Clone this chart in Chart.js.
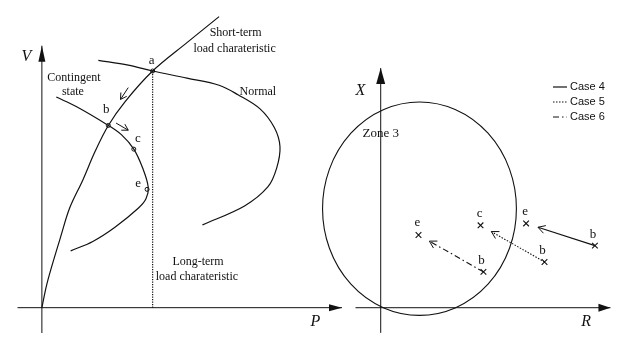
<!DOCTYPE html>
<html>
<head>
<meta charset="utf-8">
<script src="https://cdn.jsdelivr.net/npm/chart.js@4.4.1/dist/chart.umd.min.js"></script>
<style>
  html, body { margin: 0; padding: 0; background: #fff; }
  #wrap { position: relative; width: 632px; height: 338px; overflow: hidden; }
  #pv { position: absolute; left: 0; top: 0; }
  #rx { position: absolute; left: 300px; top: 0; }
</style>
</head>
<body>
<div id="wrap">
  <canvas id="pv" width="350" height="338"></canvas>
  <canvas id="rx" width="332" height="338"></canvas>
</div>
<script>
// P-V plane (per unit)
const shortTermP = [0, 0.04, 0.08, 0.17, 0.25, 0.37, 0.48, 0.6, 0.75, 1.0, 1.31, 1.6];
const shortTermV = [0, 0.09, 0.16, 0.30, 0.42, 0.54, 0.66, 0.77, 0.87, 1.0, 1.12, 1.23];
const normalP = [0.51, 0.78, 1.0, 1.31, 1.6, 1.77, 1.97, 2.1, 2.15, 2.12, 2.04, 1.83, 1.45];
const normalV = [1.045, 1.025, 1.0, 0.97, 0.94, 0.9, 0.84, 0.76, 0.68, 0.59, 0.51, 0.43, 0.35];
const contingentP = [0.13, 0.31, 0.6, 0.72, 0.83, 0.91, 0.96, 0.94, 0.87, 0.66, 0.46, 0.26];
const contingentV = [0.89, 0.85, 0.77, 0.73, 0.67, 0.59, 0.51, 0.46, 0.42, 0.34, 0.28, 0.24];
const longTermP = [1.0, 1.0];
const longTermV = [0, 1.0];
const stateLabels = ['a', 'b', 'c', 'e'];
const stateP = [1.0, 0.6, 0.83, 0.95];
const stateV = [1.0, 0.77, 0.67, 0.5];
// direction of motion after the contingency
const moveFromP = [0.78, 0.67];
const moveFromV = [0.93, 0.78];
const moveToP = [0.71, 0.78];
const moveToV = [0.88, 0.75];

// R-X plane (ohm)
const caseNames = ['Case 4', 'Case 5', 'Case 6'];
const caseDash = [[], [1.5, 1.5], [6, 3, 1.5, 3]];
const caseFrom = ['b', 'b', 'b'];
const caseTo = ['e', 'c', 'e'];
const caseFromR = [11.05, 8.45, 5.3];
const caseFromX = [2.91, 2.14, 1.68];
const caseToR = [7.5, 5.15, 1.95];
const caseToX = [3.95, 3.86, 3.41];
const zone3Center = [2.0, 4.64];
const zone3Radius = 5.0;

const ink = '#111';
const serif = '"Liberation Serif", "DejaVu Serif", serif';

function pts(xs, ys) {
  return xs.map((v, i) => ({ x: v, y: ys[i] }));
}

function curve(xs, ys) {
  return { data: pts(xs, ys), showLine: true, borderColor: ink, borderWidth: 1.2,
           pointRadius: 0, tension: 0.35, fill: false };
}

function axisLine(x0, y0, x1, y1, head) {
  return { data: [{ x: x0, y: y0 }, { x: x1, y: y1 }], showLine: true, borderColor: ink,
           borderWidth: 1, pointRadius: 0, arrow: head };
}

// arrow heads at the last point of any dataset that asks for one
const arrowHeads = {
  id: 'arrowHeads',
  afterDatasetsDraw(chart) {
    const ctx = chart.ctx;
    chart.data.datasets.forEach((ds, i) => {
      if (!ds.arrow) return;
      const el = chart.getDatasetMeta(i).data;
      const p1 = el[el.length - 2], p2 = el[el.length - 1];
      drawHead(ctx, p1.x, p1.y, p2.x, p2.y, ds.arrow);
    });
  }
};

function drawHead(ctx, x1, y1, x2, y2, head) {
  const d = Math.hypot(x2 - x1, y2 - y1);
  const ux = (x2 - x1) / d, uy = (y2 - y1) / d;
  const bx = x2 - ux * head.len, by = y2 - uy * head.len;
  ctx.save();
  ctx.strokeStyle = ink;
  ctx.fillStyle = ink;
  ctx.lineWidth = 1;
  ctx.setLineDash([]);
  ctx.beginPath();
  ctx.moveTo(bx - uy * head.half, by + ux * head.half);
  ctx.lineTo(x2, y2);
  ctx.lineTo(bx + uy * head.half, by - ux * head.half);
  if (head.filled) {
    ctx.closePath();
    ctx.fill();
  } else {
    ctx.stroke();
  }
  ctx.restore();
}

function textPlugin(id, items) {
  return {
    id: id,
    afterDatasetsDraw(chart) {
      const { ctx, scales: { x, y } } = chart;
      items.forEach(t => {
        ctx.save();
        ctx.font = t.font;
        ctx.fillStyle = ink;
        ctx.textAlign = 'center';
        ctx.textBaseline = 'middle';
        ctx.fillText(t.text, x.getPixelForValue(t.x), y.getPixelForValue(t.y));
        ctx.restore();
      });
    }
  };
}

const note = '12px ' + serif;
const axisFont = 'italic 16px ' + serif;
const letterFont = '13px ' + serif;

const pvText = [
  { text: 'V', x: -0.14, y: 1.06, font: axisFont },
  { text: 'P', x: 2.47, y: -0.06, font: axisFont },
  { text: 'Contingent', x: 0.29, y: 0.97, font: note },
  { text: 'state', x: 0.28, y: 0.91, font: note },
  { text: 'Short-term', x: 1.75, y: 1.16, font: note },
  { text: 'load charateristic', x: 1.74, y: 1.094, font: note },
  { text: 'Normal', x: 1.95, y: 0.91, font: note },
  { text: 'Long-term', x: 1.41, y: 0.195, font: note },
  { text: 'load charateristic', x: 1.40, y: 0.13, font: note }
];
const stateOffset = [[-1, -10], [-2, -16], [4, -11], [-9, -6]];

const pvStates = {
  id: 'pvStates',
  afterDatasetsDraw(chart) {
    const ctx = chart.ctx;
    const el = chart.getDatasetMeta(chart.data.datasets.findIndex(d => d.states)).data;
    ctx.save();
    ctx.font = letterFont;
    ctx.fillStyle = ink;
    ctx.textAlign = 'center';
    ctx.textBaseline = 'middle';
    stateLabels.forEach((s, i) => {
      ctx.fillText(s, el[i].x + stateOffset[i][0], el[i].y + stateOffset[i][1]);
    });
    ctx.restore();
  }
};

const pvDatasets = [
  axisLine(-0.22, 0, 2.71, 0, { len: 13, half: 3.5, filled: true }),
  axisLine(0, -0.11, 0, 1.107, { len: 16, half: 3.5, filled: true }),
  curve(shortTermP, shortTermV),
  curve(normalP, normalV),
  curve(contingentP, contingentV),
  { data: pts(longTermP, longTermV), showLine: true, borderColor: ink, borderWidth: 1.2,
    borderDash: [1.2, 1.3], pointRadius: 0 },
  { data: pts(stateP, stateV), showLine: false, pointRadius: 2, pointBorderWidth: 1,
    pointBorderColor: ink, pointBackgroundColor: '#fff', states: true }
];
moveFromP.forEach((p, i) => {
  pvDatasets.push(axisLine(p, moveFromV[i], moveToP[i], moveToV[i], { len: 6, half: 3.5, filled: false }));
});

new Chart(document.getElementById('pv').getContext('2d'), {
  type: 'scatter',
  data: { datasets: pvDatasets },
  options: {
    responsive: false,
    animation: false,
    layout: { padding: 0 },
    scales: {
      x: { type: 'linear', min: -0.333, max: 2.737, display: false },
      y: { type: 'linear', min: -0.107, max: 1.279, display: false }
    },
    plugins: { legend: { display: false }, tooltip: { enabled: false } }
  },
  plugins: [arrowHeads, textPlugin('pvText', pvText), pvStates]
});

// R-X plane
const rxText = [
  { text: 'X', x: -1.05, y: 10.18, font: axisFont },
  { text: 'R', x: 10.6, y: -0.68, font: axisFont },
  { text: 'Zone 3', x: 0, y: 8.14, font: '13px ' + serif }
];

const rxDecor = {
  id: 'rxDecor',
  afterDatasetsDraw(chart) {
    const { ctx, scales: { x, y } } = chart;
    ctx.save();
    ctx.strokeStyle = ink;
    ctx.lineWidth = 1.1;
    // zone 3 mho circle
    const cx = x.getPixelForValue(zone3Center[0]);
    const cy = y.getPixelForValue(zone3Center[1]);
    const rx = x.getPixelForValue(zone3Center[0] + zone3Radius) - cx;
    const ry = cy - y.getPixelForValue(zone3Center[1] + zone3Radius);
    ctx.beginPath();
    ctx.ellipse(cx, cy, rx, ry, 0, 0, Math.PI * 2);
    ctx.stroke();

    // apparent impedance trajectories b -> c/e
    caseNames.forEach((name, i) => {
      const x1 = x.getPixelForValue(caseFromR[i]), y1 = y.getPixelForValue(caseFromX[i]);
      const x2 = x.getPixelForValue(caseToR[i]), y2 = y.getPixelForValue(caseToX[i]);
      const d = Math.hypot(x2 - x1, y2 - y1);
      const tx = x2 - (x2 - x1) / d * 12.5, ty = y2 - (y2 - y1) / d * 12.5;
      ctx.setLineDash(caseDash[i]);
      ctx.lineWidth = 1.1;
      ctx.beginPath();
      ctx.moveTo(x1, y1);
      ctx.lineTo(tx, ty);
      ctx.stroke();
      drawHead(ctx, x1, y1, tx, ty, { len: 7, half: 4, filled: false });

      ctx.setLineDash([]);
      ctx.font = letterFont;
      ctx.fillStyle = ink;
      ctx.textAlign = 'center';
      ctx.textBaseline = 'middle';
      ctx.fillText(caseFrom[i], x1 - 2, y1 - 11);
      ctx.fillText(caseTo[i], x2 - 1, y2 - 12);
    });

    // legend
    ctx.font = '11px "Liberation Sans", Arial, sans-serif';
    ctx.textAlign = 'left';
    caseNames.forEach((name, i) => {
      const ly = 87 + 15 * i;
      ctx.setLineDash(caseDash[i]);
      ctx.lineWidth = 1.2;
      ctx.beginPath();
      ctx.moveTo(253, ly);
      ctx.lineTo(267, ly);
      ctx.stroke();
      ctx.fillText(name, 270, ly);
    });
    ctx.restore();
  }
};

const rxDatasets = [
  axisLine(-1.3, 0, 11.85, 0, { len: 12, half: 4, filled: true }),
  axisLine(0, -1.18, 0, 11.23, { len: 16, half: 4.5, filled: true }),
  { data: pts(caseFromR.concat(caseToR), caseFromX.concat(caseToX)), showLine: false,
    pointStyle: 'crossRot', pointRadius: 4, pointBorderWidth: 1.1, pointBorderColor: ink }
];

new Chart(document.getElementById('rx').getContext('2d'), {
  type: 'scatter',
  data: { datasets: rxDatasets },
  options: {
    responsive: false,
    animation: false,
    layout: { padding: 0 },
    scales: {
      x: { type: 'linear', min: -3.9, max: 12.7, display: false },
      y: { type: 'linear', min: -1.18, max: 14.18, display: false }
    },
    plugins: { legend: { display: false }, tooltip: { enabled: false } }
  },
  plugins: [arrowHeads, textPlugin('rxText', rxText), rxDecor]
});
</script>
</body>
</html>
